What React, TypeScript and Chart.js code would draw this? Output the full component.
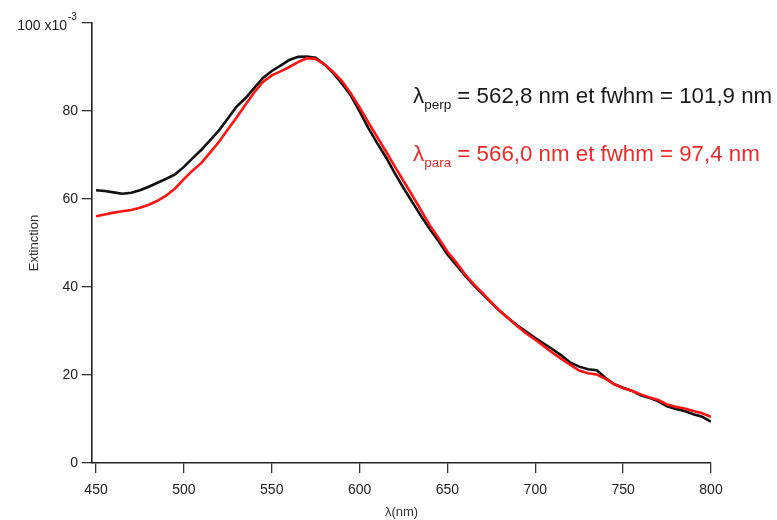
import React, { useEffect, useRef } from "react";
import { Chart, registerables } from "chart.js";

Chart.register(...registerables);

// wavelength (nm)
const wavelengths = [
  450, 455, 460, 465, 470, 475, 480, 485, 490, 495,
  500, 505, 510, 515, 520, 525, 530, 535, 540, 545,
  550, 555, 560, 565, 570, 575, 580, 585, 590, 595,
  600, 605, 610, 615, 620, 625, 630, 635, 640, 645,
  650, 655, 660, 665, 670, 675, 680, 685, 690, 695,
  700, 705, 710, 715, 720, 725, 730, 735, 740, 745,
  750, 755, 760, 765, 770, 775, 780, 785, 790, 795, 800,
];

// extinction (x10^-3), perpendicular polarisation (black)
const perpValues = [
  62.0, 61.8, 61.5, 61.2, 61.4, 62.0, 62.8, 63.7, 64.6, 65.6,
  67.3, 69.3, 71.2, 73.4, 75.6, 78.3, 81.0, 82.9, 85.2, 87.5,
  89.1, 90.3, 91.6, 92.3, 92.4, 92.1, 90.6, 88.6, 86.2, 83.5,
  79.9, 76.1, 72.7, 69.5, 65.9, 62.5, 59.3, 56.1, 53.1, 50.4,
  47.4, 45.0, 42.6, 40.4, 38.4, 36.4, 34.5, 32.8, 31.2, 29.8,
  28.4, 27.1, 25.8, 24.4, 22.8, 21.9, 21.3, 21.1, 19.3, 17.9,
  17.1, 16.4, 15.4, 14.8, 14.0, 12.9, 12.3, 11.8, 11.1, 10.5, 9.4,
];

// extinction (x10^-3), parallel polarisation (red)
const paraValues = [
  56.1, 56.5, 56.9, 57.2, 57.5, 58.0, 58.7, 59.6, 60.8, 62.4,
  64.5, 66.5, 68.2, 70.6, 73.0, 75.8, 78.5, 81.4, 84.2, 86.6,
  88.1, 89.0, 90.0, 91.1, 92.0, 91.8, 90.6, 88.9, 86.8, 84.0,
  80.8, 77.4, 74.1, 70.8, 67.4, 64.1, 60.8, 57.4, 54.0, 51.1,
  48.0, 45.6, 42.9, 40.6, 38.6, 36.5, 34.5, 32.8, 31.0, 29.4,
  28.0, 26.5, 25.0, 23.6, 22.3, 21.0, 20.4, 20.1, 19.1, 17.9,
  17.0, 16.4, 15.6, 14.9, 14.3, 13.3, 12.8, 12.4, 11.8, 11.3, 10.5,
];

const xTicks = [450, 500, 550, 600, 650, 700, 750, 800];
const yTicks = [0, 20, 40, 60, 80, 100];

const FONT = "'Liberation Sans', Arial, sans-serif";

const annotationPlugin = {
  id: "annotations",
  afterDraw(chart: any) {
    const ctx = chart.ctx;
    const yScale = chart.scales.y;
    ctx.save();
    // top y label "100 x10^-3"
    const yTop = yScale.getPixelForValue(100);
    ctx.fillStyle = "#222";
    ctx.textBaseline = "middle";
    ctx.textAlign = "right";
    ctx.font = `14px ${FONT}`;
    ctx.fillText("100 x10", 67, yTop + 3);
    ctx.textAlign = "left";
    ctx.font = `10px ${FONT}`;
    ctx.fillText("-3", 68, yTop - 6);

    const drawLabel = (
      sub: string,
      rest: string,
      color: string,
      x: number,
      baseline: number
    ) => {
      ctx.fillStyle = color;
      ctx.textBaseline = "alphabetic";
      ctx.textAlign = "left";
      ctx.font = `22.3px ${FONT}`;
      ctx.fillText("λ", x, baseline);
      let cx = x + ctx.measureText("λ").width;
      ctx.font = `13.5px ${FONT}`;
      ctx.fillText(sub, cx, baseline + 6);
      cx += ctx.measureText(sub).width;
      ctx.font = `22.3px ${FONT}`;
      ctx.fillText(rest, cx, baseline);
    };
    drawLabel("perp", " = 562,8 nm et fwhm = 101,9 nm", "#1a1a1a", 413, 103);
    drawLabel("para", " = 566,0 nm et fwhm = 97,4 nm", "#ee2a2a", 413, 161);
    ctx.restore();
  },
};

export default function App() {
  const ref = useRef<HTMLCanvasElement>(null);
  useEffect(() => {
    if (!ref.current) return;
    const chart = new Chart(ref.current, {
      type: "line",
      data: {
        datasets: [
          {
            label: "para",
            data: wavelengths.map((x, i) => ({ x, y: paraValues[i] })),
            borderColor: "#ff1414",
            borderWidth: 2.6,
            pointRadius: 0,
            tension: 0,
            fill: false,
          },
          {
            label: "perp",
            data: wavelengths.map((x, i) => ({ x, y: perpValues[i] })),
            borderColor: "#111111",
            borderWidth: 2.6,
            pointRadius: 0,
            tension: 0,
            fill: false,
          },
        ],
      },
      options: {
        responsive: false,
        animation: false,
        events: [],
        layout: { autoPadding: false, padding: { top: 23, right: 66, left: 0, bottom: 0 } },
        plugins: { legend: { display: false }, tooltip: { enabled: false } },
        scales: {
          x: {
            type: "linear",
            min: 447.7,
            max: 800,
            afterBuildTicks: (s: any) => {
              s.ticks = xTicks.map((v) => ({ value: v }));
            },
            afterFit: (s: any) => {
              s.height = 57;
            },
            grid: {
              drawOnChartArea: false,
              drawTicks: true,
              tickLength: 10,
              color: "#333",
              lineWidth: 1.3,
            },
            border: { display: true, color: "#222", width: 1.6 },
            ticks: {
              font: { family: FONT, size: 14 },
              color: "#222",
              padding: 9,
              maxRotation: 0,
              autoSkip: false,
            },
            title: {
              display: true,
              text: "λ(nm)",
              font: { family: FONT, size: 13 },
              color: "#333",
              padding: { top: 2, bottom: 0 },
            },
          },
          y: {
            min: 0,
            max: 100,
            afterBuildTicks: (s: any) => {
              s.ticks = yTicks.map((v) => ({ value: v }));
            },
            afterFit: (s: any) => {
              s.width = 92;
            },
            grid: {
              drawOnChartArea: false,
              drawTicks: true,
              tickLength: 10,
              color: "#333",
              lineWidth: 1.3,
            },
            border: { display: true, color: "#222", width: 1.6 },
            ticks: {
              font: { family: FONT, size: 14 },
              color: "#222",
              padding: 4,
              autoSkip: false,
              callback: (v: any) => (v === 100 ? "" : String(v)),
            },
            title: {
              display: true,
              text: "Extinction",
              font: { family: FONT, size: 13 },
              color: "#333",
              padding: { top: 27, bottom: 0 },
            },
          },
        },
      },
      plugins: [annotationPlugin],
    });
    return () => chart.destroy();
  }, []);
  return (
    <div style={{ position: "fixed", left: 0, top: 0, width: 777, height: 520, background: "#fff" }}>
      <canvas ref={ref} width={777} height={520} />
    </div>
  );
}
